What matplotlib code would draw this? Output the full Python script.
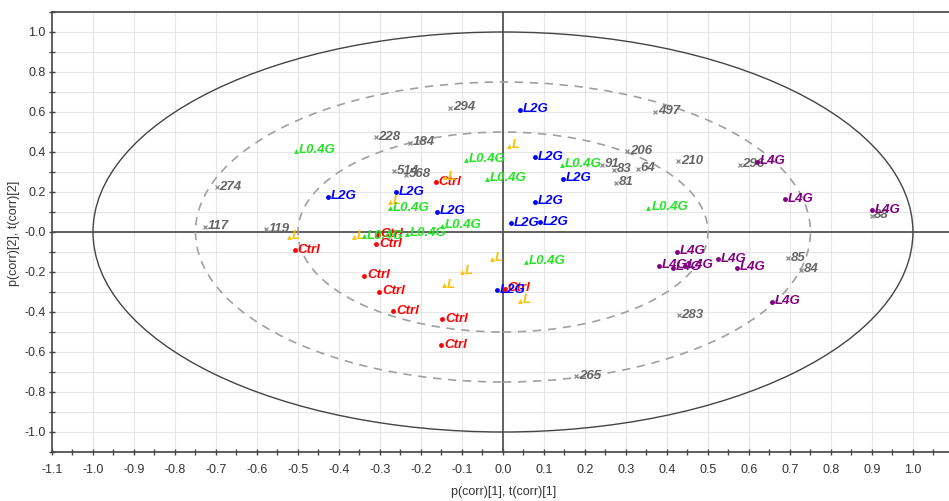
import matplotlib
matplotlib.use("Agg")
import matplotlib.pyplot as plt
from matplotlib.patches import Ellipse
from matplotlib.ticker import MultipleLocator, FixedLocator, FixedFormatter

plt.rcParams['font.family'] = ['Liberation Sans', 'DejaVu Sans']

# scores per group
ctrl_x = [-0.164, -0.508, -0.305, -0.309, -0.338, -0.302, -0.268, -0.148, -0.150, 0.005]
ctrl_y = [0.248, -0.091, -0.015, -0.061, -0.220, -0.298, -0.397, -0.437, -0.566, -0.285]

l_x = [-0.522, -0.363, -0.276, -0.141, 0.015, -0.026, -0.099, -0.144, 0.041]
l_y = [-0.024, -0.023, 0.150, 0.274, 0.432, -0.133, -0.200, -0.267, -0.345]

l04g_x = [-0.504, -0.276, -0.339, -0.235, -0.148, -0.091, -0.040, 0.145, 0.355, 0.057]
l04g_y = [0.407, 0.118, -0.021, -0.008, 0.030, 0.360, 0.265, 0.335, 0.120, -0.150]

l2g_x = [0.041, 0.077, 0.146, 0.077, 0.019, 0.090, -0.162, -0.262, -0.426, -0.014]
l2g_y = [0.612, 0.373, 0.265, 0.151, 0.044, 0.048, 0.101, 0.198, 0.176, -0.292]

l4g_x = [0.620, 0.687, 0.899, 0.424, 0.380, 0.415, 0.445, 0.525, 0.570, 0.657]
l4g_y = [0.351, 0.164, 0.109, -0.098, -0.170, -0.180, -0.168, -0.136, -0.178, -0.348]

# loadings (variables)
var_labels = ['294', '497', '228', '184', '514', '568', '274', '117', '119', '206', '91',
              '83', '64', '81', '210', '296', '88', '85', '84', '283', '265']
var_x = [-0.128, 0.372, -0.310, -0.227, -0.266, -0.237, -0.698, -0.727, -0.577, 0.303, 0.241,
         0.271, 0.329, 0.275, 0.427, 0.577, 0.899, 0.696, 0.726, 0.429, 0.179]
var_y = [0.620, 0.602, 0.474, 0.445, 0.303, 0.285, 0.223, 0.026, 0.014, 0.403, 0.335,
         0.310, 0.315, 0.245, 0.353, 0.336, 0.081, -0.131, -0.190, -0.417, -0.721]

xtick_vals = [round(-1.1 + 0.1 * i, 1) for i in range(22)]
xtick_labels = ['-1.1', '-1.0', '-0.9', '-0.8', '-0.7', '-0.6', '-0.5', '-0.4', '-0.3', '-0.2', '-0.1',
                '0.0', '0.1', '0.2', '0.3', '0.4', '0.5', '0.6', '0.7', '0.8', '0.9', '1.0']
ytick_vals = [1.0, 0.8, 0.6, 0.4, 0.2, 0.0, -0.2, -0.4, -0.6, -0.8, -1.0]
ytick_labels = ['1.0', '0.8', '0.6', '0.4', '0.2', '-0.0', '-0.2', '-0.4', '-0.6', '-0.8', '-1.0']

fig = plt.figure(figsize=(9.49, 5.01), dpi=100)
ax = fig.add_axes([52 / 949, 49 / 501, 897 / 949, 440 / 501])
ax.set_xlim(-1.1, 1.088)
ax.set_ylim(-1.1, 1.1)

# grid and origin lines
ax.xaxis.set_minor_locator(MultipleLocator(0.05))
ax.yaxis.set_minor_locator(MultipleLocator(0.1))
for v in [round(-1.0 + 0.1 * i, 1) for i in range(21)]:
    ax.axvline(v, color='#e6e6e6', lw=0.8, zorder=0)
    ax.axhline(v, color='#e6e6e6', lw=0.8, zorder=0)
ax.axhline(0, color='#555555', lw=1.3, zorder=1)
ax.axvline(0, color='#555555', lw=1.3, zorder=1)

# ellipses
ax.add_patch(Ellipse((0, 0), 2.0, 2.0, fill=False, ec='#444444', lw=1.0, zorder=1))
for r in [0.5, 0.75]:
    ax.add_patch(Ellipse((0, 0), 2 * r, 2 * r, fill=False, ec='#a0a0a0', lw=1.2,
                         ls=(0, (5, 4)), zorder=1))

lab_kw = dict(textcoords='offset points', xytext=(2, 0.5), ha='left', va='center',
              fontsize=9.5, fontweight='bold', fontstyle='italic')

# variables
ax.plot(var_x, var_y, 'x', color='#8a8a8a', ms=3.5, mew=0.9, zorder=2)
for t, x, y in zip(var_labels, var_x, var_y):
    ax.annotate(t, (x, y), color='#666666', zorder=2, **lab_kw)

groups = [
    ('Ctrl', ctrl_x, ctrl_y, '#ff0000', 'o'),
    ('L', l_x, l_y, '#ffc000', '^'),
    ('L0.4G', l04g_x, l04g_y, '#22e622', '^'),
    ('L2G', l2g_x, l2g_y, '#0000ff', 'o'),
    ('L4G', l4g_x, l4g_y, '#800080', 'o'),
]
for i, (name, xs, ys, c, m) in enumerate(groups):
    ax.plot(xs, ys, m, color=c, ms=3.5, mew=0, zorder=3 + i)
    for x, y in zip(xs, ys):
        ax.annotate(name, (x, y), color=c, zorder=3 + i, **lab_kw)

# axes styling
ax.xaxis.set_major_locator(FixedLocator(xtick_vals))
ax.xaxis.set_major_formatter(FixedFormatter(xtick_labels))
ax.yaxis.set_major_locator(FixedLocator(ytick_vals))
ax.yaxis.set_major_formatter(FixedFormatter(ytick_labels))
ax.tick_params(which='both', direction='inout', length=5, width=1, color='#444444',
               labelsize=9, labelcolor='#333333')
ax.tick_params(axis='x', pad=6)
ax.tick_params(axis='y', pad=2)
ax.tick_params(which='minor', length=4)
for s in ['left', 'bottom', 'top']:
    ax.spines[s].set_color('#444444')
    ax.spines[s].set_linewidth(1.2)
ax.spines['right'].set_visible(False)

fig.text(504 / 949, 1 - 492 / 501, 'p(corr)[1], t(corr)[1]', fontsize=9, color='#333333',
         ha='center', va='center')
fig.text(14 / 949, 1 - 233 / 501, 'p(corr)[2], t(corr)[2]', fontsize=9, color='#333333',
         ha='center', va='center', rotation=90)

fig.savefig('out.png', dpi=100)
